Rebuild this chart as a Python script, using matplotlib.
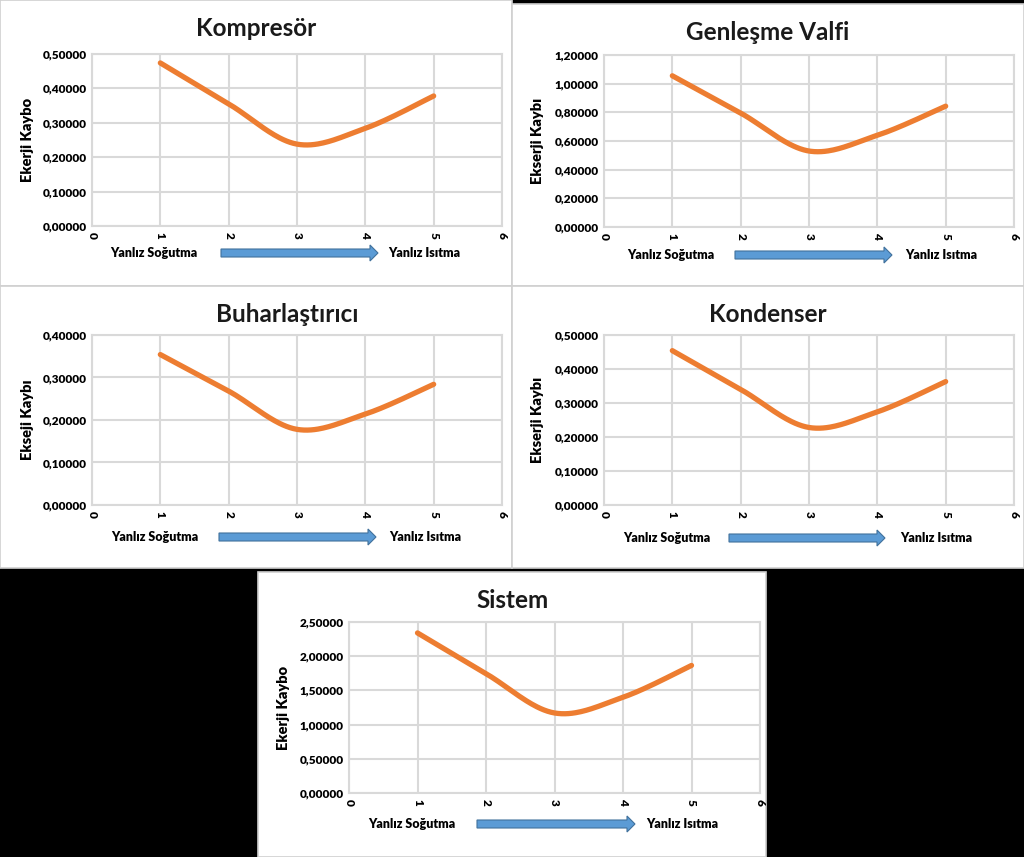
import numpy as np
import matplotlib.pyplot as plt
from matplotlib.patches import Rectangle, FancyArrow
from matplotlib.ticker import FuncFormatter, MultipleLocator
from matplotlib.transforms import Affine2D

plt.rcParams['font.family'] = ['Lato', 'DejaVu Sans']

W, H = 1024, 857

# data (x = 1 .. 5, from "Yanlız Soğutma" to "Yanlız Isıtma")
x_vals = [1, 2, 3, 4, 5]
kompresor = [0.474, 0.355, 0.238, 0.284, 0.378]
genlesme = [1.055, 0.795, 0.530, 0.640, 0.843]
buharlastirici = [0.354, 0.268, 0.178, 0.214, 0.284]
kondenser = [0.454, 0.340, 0.228, 0.274, 0.363]
sistem = [2.340, 1.745, 1.170, 1.400, 1.865]

titles = ['Kompresör', 'Genleşme Valfi', 'Buharlaştırıcı', 'Kondenser', 'Sistem']
ylabels = ['Ekerji Kaybo', 'Ekserji Kaybı', 'Ekseji Kaybı', 'Ekserji Kaybı', 'Ekerji Kaybo']
series = [kompresor, genlesme, buharlastirici, kondenser, sistem]
ymaxs = [0.5, 1.2, 0.4, 0.5, 2.5]
ysteps = [0.1, 0.2, 0.1, 0.1, 0.5]
left_text = 'Yanlız Soğutma'
right_text = 'Yanlız Isıtma'

# panel layouts in pixels (top-left origin)
layouts = [
    dict(panel=(0, 0, 512, 286), plot=(92, 54, 502, 226), title=(256, 29), ylab=(27, 140),
         row=253, ltx=154, arr=(221, 378), rtx=424),
    dict(panel=(512, 4, 1024, 286), plot=(604, 55, 1014, 227), title=(768, 32), ylab=(538, 141),
         row=255, ltx=671, arr=(735, 892), rtx=941),
    dict(panel=(0, 286, 512, 568), plot=(92, 335, 502, 505), title=(287, 314), ylab=(27, 420),
         row=537, ltx=155, arr=(219, 376), rtx=425),
    dict(panel=(512, 286, 1024, 568), plot=(604, 335, 1014, 505), title=(768, 314), ylab=(538, 420),
         row=538, ltx=667, arr=(729, 885), rtx=936),
    dict(panel=(258, 572, 766, 857), plot=(349, 622, 760, 793), title=(513, 601), ylab=(283, 708),
         row=824, ltx=412, arr=(477, 635), rtx=682),
]


def smooth(xs, ys, sx, sy, n=40):
    # Excel-like smoothed line (Catmull-Rom Bezier in screen units)
    P = np.column_stack([np.asarray(xs, float) * sx, np.asarray(ys, float) * sy])
    P = np.vstack([P[0], P, P[-1]])
    t = np.linspace(0, 1, n)[:, None]
    segs = []
    for i in range(1, len(P) - 2):
        p0, p1, p2, p3 = P[i - 1], P[i], P[i + 1], P[i + 2]
        c1 = p1 + (p2 - p0) / 6
        c2 = p2 - (p3 - p1) / 6
        segs.append((1 - t) ** 3 * p1 + 3 * (1 - t) ** 2 * t * c1 + 3 * (1 - t) * t ** 2 * c2 + t ** 3 * p2)
    out = np.vstack(segs)
    return out[:, 0] / sx, out[:, 1] / sy


fig = plt.figure(figsize=(W / 100, H / 100), dpi=100, facecolor='black')
T = Affine2D().scale(1 / W, -1 / H).translate(0, 1) + fig.transFigure

grid_c = '#d9d9d9'
fmt = FuncFormatter(lambda v, p: f'{v:.5f}'.replace('.', ','))

for lay, title, ylab, ys, ymax, ystep in zip(layouts, titles, ylabels, series, ymaxs, ysteps):
    x0, y0, x1, y1 = lay['panel']
    fig.add_artist(Rectangle((x0, y0), x1 - x0, y1 - y0, transform=T, facecolor='white',
                             edgecolor='#d0d0d0', lw=1.2, zorder=-1))

    l, t, r, b = lay['plot']
    ax = fig.add_axes([l / W, 1 - b / H, (r - l) / W, (b - t) / H])
    ax.set_xlim(0, 6)
    ax.set_ylim(0, ymax)
    ax.xaxis.set_major_locator(MultipleLocator(1))
    ax.yaxis.set_major_locator(MultipleLocator(ystep))
    ax.yaxis.set_major_formatter(fmt)
    ax.grid(True, color=grid_c, lw=1.5)
    ax.set_axisbelow(True)
    for s in ax.spines.values():
        s.set_color(grid_c)
        s.set_linewidth(1.5)
    ax.tick_params(length=0, labelsize=8.5, pad=4)
    for lab in ax.get_yticklabels():
        lab.set_fontweight('heavy')
    for lab in ax.get_xticklabels():
        lab.set_fontweight('heavy')
        lab.set_rotation(-90)

    xs, yy = smooth(x_vals, ys, (r - l) / 6, (b - t) / ymax)
    ax.plot(xs, yy, color='#ed7d31', lw=3.8, solid_capstyle='round', clip_on=False)

    fig.text(*lay['title'], title, transform=T, ha='center', va='center',
             fontsize=17.5, fontweight='bold', color='#1a1a1a')
    fig.text(*lay['ylab'], ylab, transform=T, ha='center', va='center', rotation=90,
             fontsize=10.5, fontweight='heavy', color='black')
    fig.text(lay['ltx'], lay['row'], left_text, transform=T, ha='center', va='center',
             fontsize=9, fontweight='heavy', color='black')
    fig.text(lay['rtx'], lay['row'], right_text, transform=T, ha='center', va='center',
             fontsize=9, fontweight='heavy', color='black')
    a0, a1 = lay['arr']
    fig.add_artist(FancyArrow(a0, lay['row'], a1 - a0, 0, width=8, head_width=16, head_length=8,
                              length_includes_head=True, transform=T,
                              facecolor='#5b9bd5', edgecolor='#41719c', lw=0.8))

fig.savefig('out.png', dpi=100, facecolor='black')
